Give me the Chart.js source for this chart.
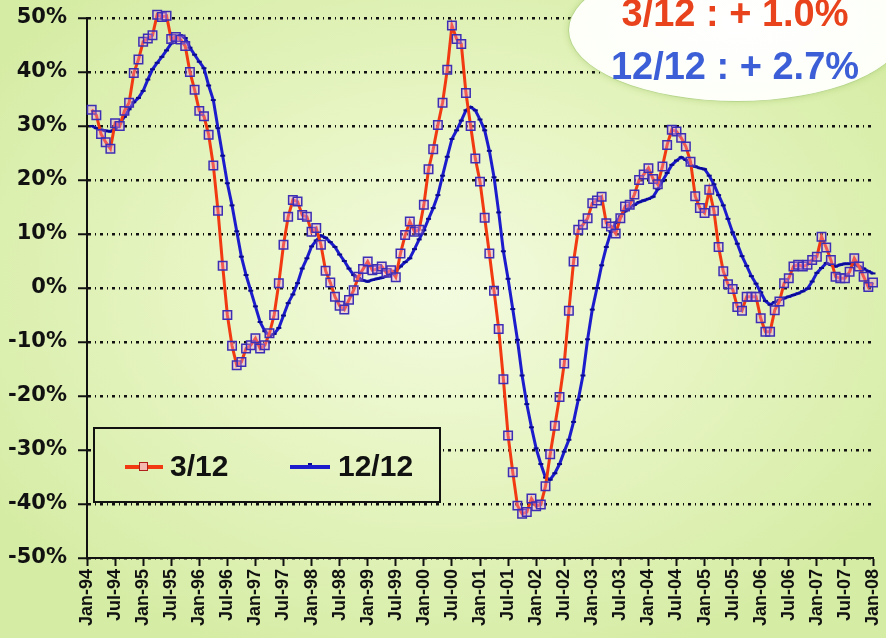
<!DOCTYPE html>
<html>
<head>
<meta charset="utf-8">
<script src="https://cdn.jsdelivr.net/npm/chart.js@4.4.1/dist/chart.umd.min.js"></script>
<style>
  html, body { margin: 0; padding: 0; }
  body {
    width: 886px; height: 638px; overflow: hidden;
    background: radial-gradient(ellipse 62% 62% at 50% 45%, #f3fbe0 0%, #e7f5c3 45%, #d5eca4 100%);
    background-attachment: fixed;
  }
  #wrap { position: relative; width: 886px; height: 638px; }
  #chart { position: absolute; left: 0; top: 0; }
  #legend {
    position: absolute; left: 93px; top: 427px; width: 344px; height: 72px;
    border: 2px solid #111;
    background: radial-gradient(ellipse 62% 62% at 50% 45%, #f3fbe0 0%, #e7f5c3 45%, #d5eca4 100%);
    background-attachment: fixed;
    font-family: "Liberation Sans", Arial, sans-serif; font-weight: bold; font-size: 30px; color: #111;
  }
  .sample { position: absolute; top: 36px; height: 4px; width: 38px; }
  .sample.red { left: 30px; background: #f23a12; }
  .sample.blue { left: 195px; width: 40px; background: #1c1ccc; }
  .sample.red i { position: absolute; left: 14px; top: -3px; width: 7px; height: 7px; border: 1.5px solid #b0201a; background: #f6b9b0; box-sizing: content-box; }
  .sample.blue i { position: absolute; left: 18px; top: -2px; width: 4px; height: 2px; background: #0a0a90; }
  .lbl { position: absolute; top: 22px; line-height: 30px; white-space: nowrap; }
  #bubble {
    position: absolute; left: 568px; top: -42px; width: 336px; height: 142px;
    border-radius: 50%;
    background: radial-gradient(ellipse at 50% 45%, #ffffff 0%, #fdfff8 70%, #f1f8e2 100%);
    border: 1.5px solid #b7d58c;
    box-shadow: 0 0 6px rgba(150,190,90,0.45);
  }
  .btxt {
    position: absolute; left: 535px; width: 400px; text-align: center;
    font-family: "Liberation Sans", Arial, sans-serif; font-weight: bold; font-size: 38px;
    line-height: 38px; white-space: nowrap;
  }
</style>
</head>
<body>
<div id="wrap">
  <canvas id="chart" width="886" height="638"></canvas>
  <div id="legend">
    <span class="sample red"><i></i></span><span class="lbl" style="left:75px">3/12</span>
    <span class="sample blue"><i></i></span><span class="lbl" style="left:243px">12/12</span>
  </div>
  <div id="bubble"></div>
  <div class="btxt" style="top:-6px;color:#e8431c;">3/12 : + 1.0%</div>
  <div class="btxt" style="top:47px;color:#3c5ed6;">12/12 : + 2.7%</div>
</div>
<script>
// x tick labels, every 6 months from Jan-94 to Jan-08
const tickLabels = ["Jan-94","Jul-94","Jan-95","Jul-95","Jan-96","Jul-96","Jan-97","Jul-97",
  "Jan-98","Jul-98","Jan-99","Jul-99","Jan-00","Jul-00","Jan-01","Jul-01","Jan-02","Jul-02",
  "Jan-03","Jul-03","Jan-04","Jul-04","Jan-05","Jul-05","Jan-06","Jul-06","Jan-07","Jul-07","Jan-08"];

// first observation is one month after Jan-94 (Feb-94), monthly through Jan-08
const firstMonthOffset = 1;

// 3/12 growth rate (%), monthly
const series3m = [
  33, 32, 28.5, 27, 25.8, 30.5, 30, 32.8, 34.3, 39.8,
  42.3, 45.6, 46.2, 46.8, 50.6, 50.2, 50.4, 46.1, 46.5, 46,
  44.8, 40, 36.7, 32.8, 31.8, 28.4, 22.7, 14.3, 4.1, -5,
  -10.7, -14.3, -13.7, -11.2, -10.6, -9.3, -11.2, -10.6, -8.4, -5,
  0.9, 8, 13.2, 16.3, 16, 13.5, 13.2, 10.4, 11.1, 8,
  3.2, 1, -1.6, -3.3, -4, -2.2, -0.4, 2.1, 3.5, 4.9,
  3.3, 3.5, 4, 2.8, 3.3, 2, 6.4, 9.8, 12.3, 10.4,
  10.8, 15.4, 22, 25.7, 30.2, 34.3, 40.4, 48.6, 46.1, 45.2,
  36.1, 30, 24, 19.7, 13, 6.4, -0.5, -7.6, -16.9, -27.3,
  -34.1, -40.3, -41.8, -41.5, -39, -40.4, -40.1, -36.7, -30.8, -25.5,
  -20.2, -14, -4.2, 4.9, 10.8, 11.7, 12.9, 15.7, 16.2, 16.9,
  12, 11.4, 10.1, 12.9, 15.1, 15.4, 17.3, 20, 21, 22.2,
  20.2, 19.2, 22.5, 26.5, 29.3, 29, 27.8, 26.2, 23.4, 17,
  14.8, 13.9, 18.2, 14.3, 7.6, 3.1, 0.7, -0.2, -3.5, -4.2,
  -1.6, -1.6, -1.6, -5.6, -8.1, -8.1, -4.1, -2.5, 0.9, 1.8,
  4, 4.3, 4, 4.3, 5.2, 5.8, 9.5, 7.5, 5.2, 2.1,
  1.8, 1.8, 3, 5.5, 4, 2.1, 0.2, 1.0
];

// 12/12 growth rate (%), monthly
const series12m = [
  30, 29.6, 29.3, 29.1, 29, 29.5, 30.5, 31.7, 33.1, 34.4,
  35.2, 36.5, 38.6, 40.5, 41.7, 42.8, 44, 45.3, 46.5, 46.8,
  46.3, 44.5, 43.2, 41.9, 40.7, 37.5, 34.8, 29.6, 24.5, 19.4,
  15.3, 10.5, 5.8, 2.4, -0.5, -3.4, -6.3, -8, -8.9, -8.5,
  -7.4, -5.1, -2.8, -1.2, 0.9, 3.6, 5.5, 7.7, 8.8, 9.7,
  9.3, 8.5, 7.6, 6.2, 5, 3.6, 2.4, 1.9, 1.4, 1.2,
  1.5, 1.7, 1.9, 2.2, 2.6, 3.2, 4, 4.8, 5.5, 7.2,
  9, 10.7, 12.8, 14.8, 17.2, 20.8, 24.3, 27.6, 29.2, 31,
  32.9, 33.5, 32.9, 31.2, 29.2, 25.4, 20.5, 14, 6.8, 1.7,
  -3.9, -9.6, -16.2, -21.5, -25.8, -29.7, -32.6, -35.1, -35.5, -34.3,
  -32.6, -30.3, -28.1, -24.8, -20.7, -16.2, -9.5, -4, 0, 4.2,
  7.6, 10.4, 12.1, 13.3, 14.2, 14.9, 15.4, 15.9, 16.2, 16.5,
  16.9, 18.3, 19.8, 21.3, 22.8, 23.6, 24.2, 23.7, 22.7, 22.5,
  22.2, 22, 20.8, 19.2, 17.2, 15.3, 12.8, 10.3, 8.2, 5.9,
  4.1, 2.2, 0.8, -0.8, -2.4, -3.1, -2.6, -2.2, -1.9, -1.6,
  -1.3, -1, -0.6, -0.1, 1.2, 2.8, 3.7, 4.6, 4.3, 4,
  4.3, 4.5, 4.5, 4.4, 4, 3.6, 3.1, 2.7
];

const seriesNames = ["3/12", "12/12"];

const toPoints = arr => arr.map((v, i) => ({ x: firstMonthOffset + i, y: v }));

const ctx = document.getElementById('chart').getContext('2d');
new Chart(ctx, {
  type: 'line',
  data: {
    datasets: [
      {
        label: seriesNames[0],
        data: toPoints(series3m),
        borderColor: '#f23a12',
        borderWidth: 3,
        pointStyle: 'rect',
        pointRadius: 6,
        pointBorderColor: '#3d2fb5',
        pointBorderWidth: 1.5,
        pointBackgroundColor: 'rgba(240,150,210,0.35)',
        tension: 0,
        clip: false
      },
      {
        label: seriesNames[1],
        data: toPoints(series12m),
        borderColor: '#1c1ccc',
        borderWidth: 3,
        pointStyle: 'line',
        pointRadius: 2.5,
        pointBorderColor: '#0a0a90',
        pointBorderWidth: 2,
        tension: 0,
        clip: false
      }
    ]
  },
  options: {
    responsive: false,
    animation: false,
    devicePixelRatio: 1,
    layout: { padding: { top: 18, right: 13, left: 0, bottom: 0 } },
    plugins: { legend: { display: false }, tooltip: { enabled: false } },
    scales: {
      x: {
        type: 'linear',
        min: 0,
        max: (tickLabels.length - 1) * 6,
        afterFit: s => { s.height = 80; s.paddingLeft = 0; s.paddingRight = 0; },
        ticks: {
          stepSize: 6,
          autoSkip: false,
          minRotation: 90,
          maxRotation: 90,
          padding: 3,
          color: '#111',
          font: { family: '"Liberation Sans", Arial, sans-serif', weight: 'bold', size: 18 },
          callback: v => tickLabels[Math.round(v / 6)]
        },
        grid: { drawOnChartArea: false, drawTicks: true, tickLength: 8, tickColor: '#111', tickWidth: 2 },
        border: { color: '#111', width: 2 }
      },
      y: {
        min: -50,
        max: 50,
        afterFit: s => { s.width = 87; s.paddingTop = 0; s.paddingBottom = 0; },
        ticks: {
          stepSize: 10,
          padding: 11,
          color: '#111',
          font: { family: '"DejaVu Sans", sans-serif', weight: 'bold', size: 21 },
          callback: v => v + '%'
        },
        grid: { color: '#111', lineWidth: 2.5, tickLength: 9, tickColor: '#111', tickWidth: 2, tickBorderDash: [] },
        border: { color: '#111', width: 2, dash: [3, 4, 1, 4] }
      }
    }
  }
});
</script>
</body>
</html>
